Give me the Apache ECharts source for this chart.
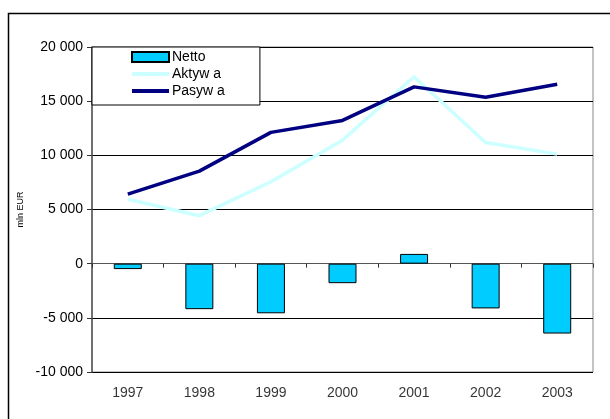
<!DOCTYPE html>
<html>
<head>
<meta charset="utf-8">
<script src="https://cdn.jsdelivr.net/npm/echarts@6/dist/echarts.min.js"></script>
<style>
  html, body { margin: 0; padding: 0; background: #fff; }
  #chart { width: 610px; height: 419px; }
</style>
</head>
<body>
<div id="chart"></div>
<script>
var years = ['1997', '1998', '1999', '2000', '2001', '2002', '2003'];
var netto = [-500, -4200, -4580, -1800, 900, -4130, -6450];
var aktywa = [5950, 4430, 7560, 11400, 17250, 11190, 10110];
var pasywa = [6420, 8540, 12120, 13220, 16320, 15360, 16560];
var seriesNames = ['Netto', 'Aktyw a', 'Pasyw a'];

function fmt(v) {
    var s = String(Math.abs(v)).replace(/\B(?=(\d{3})+(?!\d))/g, ' ');
    return (v < 0 ? '-' : '') + s;
}

var chart = echarts.init(document.getElementById('chart'));
var font = 'Liberation Sans, Arial, sans-serif';

var option = {
    animation: false,
    backgroundColor: '#fff',
    textStyle: { fontFamily: font },
    graphic: [
        { type: 'rect', shape: { x: 8.5, y: 13.5, width: 700, height: 500 }, style: { fill: 'none', stroke: '#000', lineWidth: 1.5 }, silent: true }
    ],
    grid: { left: 92, right: 17, top: 47, bottom: 47, show: true, borderColor: '#888', borderWidth: 1, backgroundColor: 'transparent' },
    legend: {
        data: [
            { name: seriesNames[0], icon: 'rect' },
            { name: seriesNames[1], itemStyle: { opacity: 0 }, lineStyle: { width: 4 } },
            { name: seriesNames[2], itemStyle: { opacity: 0 }, lineStyle: { width: 4 } }
        ],
        orient: 'vertical',
        left: 92, top: 47,
        backgroundColor: '#fff',
        borderColor: '#000', borderWidth: 1, borderRadius: 0,
        padding: [3, 35, 7, 38],
        itemWidth: 37, itemHeight: 10, itemGap: 3,
        textStyle: { fontSize: 14, color: '#000', fontFamily: font, padding: [0, 0, 0, -2] },
        z: 10
    },
    xAxis: {
        type: 'category',
        data: years,
        axisLine: { onZero: true, lineStyle: { color: '#555', width: 1 } },
        axisTick: { show: true, inside: false, length: 4, lineStyle: { color: '#333' } },
        axisLabel: { show: false },
        splitLine: { show: false }
    },
    yAxis: {
        type: 'value',
        min: -10000, max: 20000, interval: 5000,
        name: 'mln EUR',
        nameLocation: 'middle',
        nameGap: 63,
        nameRotate: 90,
        nameTextStyle: { fontSize: 9, color: '#000', fontFamily: font },
        axisLine: { show: true, lineStyle: { color: '#555', width: 1.5 } },
        axisTick: { show: true, length: 5, lineStyle: { color: '#333' } },
        axisLabel: { formatter: fmt, fontSize: 14, color: '#000', margin: 9, fontFamily: font },
        splitLine: { show: true, lineStyle: { color: '#000', width: 1 } }
    },
    series: [
        {
            name: seriesNames[0], type: 'bar', data: netto, barWidth: 28,
            itemStyle: { color: '#00ccff', borderColor: '#000', borderWidth: 1 }
        },
        {
            name: seriesNames[1], type: 'line', data: aktywa, symbol: 'none',
            lineStyle: { color: '#ccffff', width: 3.5 }, itemStyle: { color: '#ccffff' }, z: 3
        },
        {
            name: seriesNames[2], type: 'line', data: pasywa, symbol: 'none',
            lineStyle: { color: '#000080', width: 3.5 }, itemStyle: { color: '#000080' }, z: 4
        },
        {
            // year labels along the bottom of the plot
            type: 'scatter', data: years.map(function (y) { return [y, -10000]; }),
            symbolSize: 0, silent: true,
            label: { show: true, position: 'bottom', distance: 14, formatter: function (p) { return p.value[0]; }, fontSize: 14, color: '#000', fontFamily: font }
        }
    ]
};
chart.setOption(option);
</script>
</body>
</html>
